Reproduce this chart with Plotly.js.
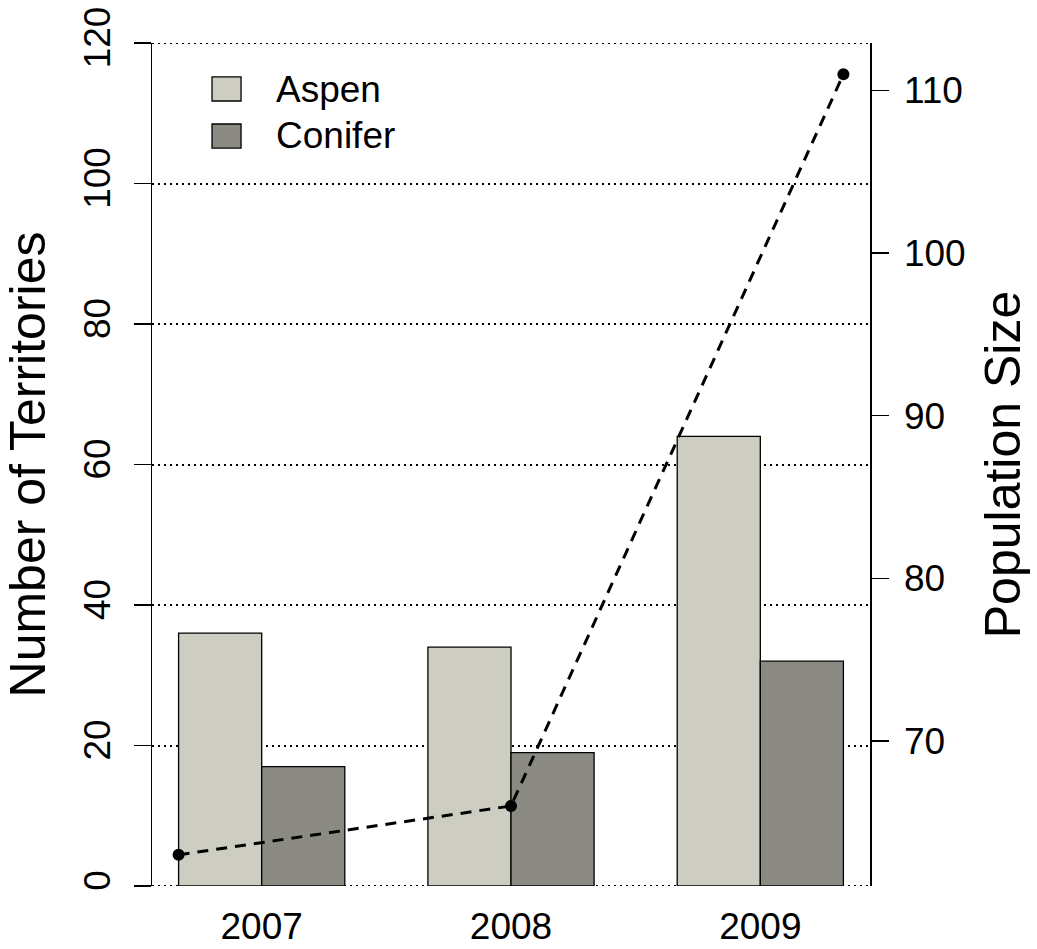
<!DOCTYPE html>
<html>
<head>
<meta charset="utf-8">
<script src="https://cdn.plot.ly/plotly-3.0.1.min.js"></script>
<style>
  html, body { margin: 0; padding: 0; background: #fff; }
  #chart { width: 1037px; height: 949px; }
</style>
</head>
<body>
<div id="chart"></div>
<script>
// Territory counts per habitat and total population size by year
const years = ["2007", "2008", "2009"];
const aspenTerritories = [36, 34, 64];
const coniferTerritories = [17, 19, 32];
const populationSize = [63, 66, 111];
const leftTicks = [0, 20, 40, 60, 80, 100, 120];
const rightTicks = [70, 80, 90, 100, 110];

const FONT = "Liberation Sans, Arial, Helvetica, sans-serif";
const aspenColor = "#CDCDC1";
const coniferColor = "#8B8B83";
const GRID_DASH = "2px,4px";

// population line uses a plain 1..n index axis
const popX = years.map((_, i) => i + 1);

const traces = [
  {
    type: "bar", name: "Aspen", x: years, y: aspenTerritories,
    marker: { color: aspenColor, line: { color: "#000", width: 1.3 } },
    xaxis: "x", yaxis: "y", hoverinfo: "none"
  },
  {
    type: "bar", name: "Conifer", x: years, y: coniferTerritories,
    marker: { color: coniferColor, line: { color: "#000", width: 1.3 } },
    xaxis: "x", yaxis: "y", hoverinfo: "none"
  },
  {
    type: "scatter", mode: "lines+markers", name: "Population",
    x: popX, y: populationSize,
    line: { color: "#000", width: 3, dash: "11px,8px" },
    marker: { color: "#000", size: 12 },
    xaxis: "x2", yaxis: "y2", hoverinfo: "none"
  }
];

// dotted guide lines at the outer ticks (the axis skips grid at its edges)
const edgeGrid = [leftTicks[0], leftTicks[leftTicks.length - 1]].map(v => ({
  type: "line", xref: "paper", yref: "y", x0: 0, x1: 1, y0: v, y1: v, layer: "below",
  line: { color: "#000", width: 2, dash: GRID_DASH }
}));

const layout = {
  width: 1037, height: 949,
  margin: { l: 152, r: 167, t: 43, b: 63, pad: 0 },
  paper_bgcolor: "#fff", plot_bgcolor: "#fff",
  showlegend: false,
  barmode: "group", bargap: 1 / 3, bargroupgap: 0,
  font: { family: FONT, color: "#000", size: 37 },
  xaxis: {
    type: "category", range: [-0.44, 2.44],
    showgrid: false, zeroline: false, showline: false, ticks: "",
    tickfont: { size: 37 }, ticklabelstandoff: 15, fixedrange: true
  },
  xaxis2: {
    overlaying: "x", range: [0.92, 3.08], visible: false, fixedrange: true
  },
  yaxis: {
    range: [0, 120], tickmode: "array", tickvals: leftTicks,
    ticktext: leftTicks.map(String),
    tickangle: -90, ticks: "outside", ticklen: 17, tickwidth: 1.5, tickcolor: "#000",
    showline: true, linecolor: "#000", linewidth: 1.5,
    showgrid: true, gridcolor: "#000", gridwidth: 2, griddash: GRID_DASH,
    zeroline: false, tickfont: { size: 37 }, ticklabelstandoff: 9,
    title: { text: "Number of Territories", font: { size: 50 }, standoff: 26 },
    fixedrange: true
  },
  yaxis2: {
    overlaying: "y", side: "right", range: [61.08, 112.92],
    tickmode: "array", tickvals: rightTicks, ticktext: rightTicks.map(String),
    ticks: "outside", ticklen: 17, tickwidth: 1.5, tickcolor: "#000",
    showline: true, linecolor: "#000", linewidth: 1.5,
    showgrid: false, zeroline: false, tickfont: { size: 37 }, ticklabelstandoff: 8,
    title: { text: "Population Size", font: { size: 50 }, standoff: 20 },
    fixedrange: true
  },
  shapes: edgeGrid.concat([
    // legend keys
    { type: "rect", xref: "paper", yref: "paper", x0: 0.0836, x1: 0.124, y0: 0.9312, y1: 0.9597,
      fillcolor: aspenColor, line: { color: "#000", width: 1.3 } },
    { type: "rect", xref: "paper", yref: "paper", x0: 0.0836, x1: 0.124, y0: 0.8754, y1: 0.9039,
      fillcolor: coniferColor, line: { color: "#000", width: 1.3 } }
  ]),
  annotations: [
    { xref: "paper", yref: "paper", x: 0.17, y: 0.9454, xanchor: "left", yanchor: "middle",
      text: "Aspen", showarrow: false, font: { size: 37 } },
    { xref: "paper", yref: "paper", x: 0.17, y: 0.8897, xanchor: "left", yanchor: "middle",
      text: "Conifer", showarrow: false, font: { size: 37 } }
  ]
};

Plotly.newPlot("chart", traces, layout, { staticPlot: true, displayModeBar: false });
</script>
</body>
</html>
